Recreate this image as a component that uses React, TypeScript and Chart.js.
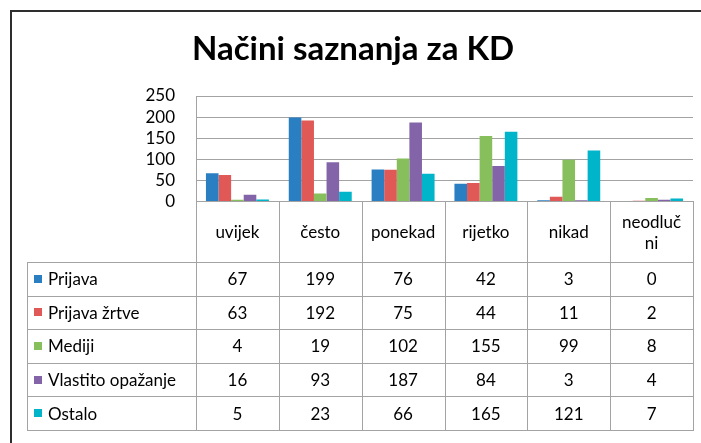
import React, { useEffect, useRef } from "react";
import { Chart, registerables } from "chart.js";

Chart.register(...registerables);

const chartTitle = "Načini saznanja za KD";
const categories = ["uvijek", "često", "ponekad", "rijetko", "nikad", "neodlučni"];
const headerLabels = [["uvijek"], ["često"], ["ponekad"], ["rijetko"], ["nikad"], ["neodluč", "ni"]];
const seriesNames = ["Prijava", "Prijava žrtve", "Mediji", "Vlastito opažanje", "Ostalo"];
const prijava = [67, 199, 76, 42, 3, 0];
const prijavaZrtve = [63, 192, 75, 44, 11, 2];
const mediji = [4, 19, 102, 155, 99, 8];
const vlastitoOpazanje = [16, 93, 187, 84, 3, 4];
const ostalo = [5, 23, 66, 165, 121, 7];
const seriesValues = [prijava, prijavaZrtve, mediji, vlastitoOpazanje, ostalo];
const seriesColors = ["#2A7FC2", "#E05957", "#86BF5B", "#8464A9", "#00B4CA"];
const yTicks = [0, 50, 100, 150, 200, 250];

const FONT = "Lato, 'Open Sans', sans-serif";
const GRID = "#A3A3A3";

// layout geometry
const W = 701;
const H = 443;
const PLOT_LEFT = 196;
const PLOT_RIGHT = 693;
const PLOT_TOP = 96;
const PLOT_BOTTOM = 201.5;
const TABLE_LEFT = 27;
const HEADER_BOTTOM = 262;
const ROW_H = 33.6;

export default function App() {
  const canvasRef = useRef<HTMLCanvasElement | null>(null);

  useEffect(() => {
    const canvas = canvasRef.current;
    if (!canvas) return;
    const padLeft = 13;
    const titleSize = 33;
    const titleLH = titleSize * 1.2;
    const titlePadTop = 20;
    const chart = new Chart(canvas, {
      type: "bar",
      data: {
        labels: categories,
        datasets: seriesValues.map((vals, i) => ({
          label: seriesNames[i],
          data: vals,
          backgroundColor: seriesColors[i],
          borderWidth: 0,
          categoryPercentage: 0.76,
          barPercentage: 1,
        })),
      },
      options: {
        responsive: false,
        animation: false,
        layout: {
          padding: { left: padLeft, right: W - PLOT_RIGHT, top: 10, bottom: H - PLOT_BOTTOM },
        },
        plugins: {
          legend: { display: false },
          tooltip: { enabled: false },
          title: {
            display: true,
            text: chartTitle,
            color: "#000",
            font: { family: FONT, weight: "bold", size: titleSize, lineHeight: 1.2 },
            padding: { top: titlePadTop, bottom: PLOT_TOP - 10 - titlePadTop - titleLH },
          },
        },
        scales: {
          x: { display: false },
          y: {
            min: 0,
            max: 250,
            afterBuildTicks: (s: any) => {
              s.ticks = yTicks.map((v) => ({ value: v }));
            },
            afterFit: (s: any) => {
              s.width = PLOT_LEFT - padLeft;
            },
            ticks: { color: "#000", font: { family: FONT, size: 17 }, padding: 21, autoSkip: false },
            grid: { color: GRID, drawTicks: false, lineWidth: 1 },
            border: { color: GRID, width: 1 },
          },
        },
      } as any,
    });
    return () => chart.destroy();
  }, []);

  const colW = (PLOT_RIGHT - PLOT_LEFT) / categories.length;
  const tableBottom = HEADER_BOTTOM + ROW_H * seriesNames.length;

  const lines: React.ReactNode[] = [];
  for (let k = 0; k <= seriesNames.length; k++) {
    const y = Math.round(HEADER_BOTTOM + ROW_H * k);
    lines.push(
      <div key={"h" + k} style={{ position: "absolute", left: TABLE_LEFT, top: y, width: PLOT_RIGHT - TABLE_LEFT + 1, height: 1, background: GRID }} />
    );
  }
  lines.push(
    <div key="vl" style={{ position: "absolute", left: TABLE_LEFT, top: HEADER_BOTTOM, width: 1, height: Math.round(tableBottom) - HEADER_BOTTOM + 1, background: GRID }} />
  );
  for (let j = 0; j <= categories.length; j++) {
    const x = Math.round(PLOT_LEFT + colW * j);
    lines.push(
      <div key={"v" + j} style={{ position: "absolute", left: x, top: Math.floor(PLOT_BOTTOM), width: 1, height: Math.round(tableBottom) - Math.floor(PLOT_BOTTOM) + 1, background: GRID }} />
    );
  }

  const cells: React.ReactNode[] = [];
  headerLabels.forEach((lbl, j) => {
    cells.push(
      <div
        key={"hc" + j}
        style={{
          position: "absolute",
          left: PLOT_LEFT + colW * j,
          top: PLOT_BOTTOM,
          width: colW,
          height: HEADER_BOTTOM - PLOT_BOTTOM,
          display: "flex",
          flexDirection: "column",
          alignItems: "center",
          justifyContent: "center",
          lineHeight: "21px",
        }}
      >
        {lbl.map((t, i) => (
          <span key={i}>{t}</span>
        ))}
      </div>
    );
  });
  seriesNames.forEach((name, r) => {
    const top = HEADER_BOTTOM + ROW_H * r;
    cells.push(
      <div
        key={"n" + r}
        style={{
          position: "absolute",
          left: TABLE_LEFT,
          top,
          width: PLOT_LEFT - TABLE_LEFT,
          height: ROW_H,
          display: "flex",
          alignItems: "center",
          whiteSpace: "nowrap",
        }}
      >
        <span style={{ display: "inline-block", width: 8, height: 8, background: seriesColors[r], marginLeft: 7, marginRight: 6 }} />
        <span>{name}</span>
      </div>
    );
    seriesValues[r].forEach((v, j) => {
      cells.push(
        <div
          key={"c" + r + "-" + j}
          style={{
            position: "absolute",
            left: PLOT_LEFT + colW * j,
            top,
            width: colW,
            height: ROW_H,
            display: "flex",
            alignItems: "center",
            justifyContent: "center",
          }}
        >
          {v}
        </div>
      );
    });
  });

  return (
    <div style={{ position: "absolute", left: 0, top: 0, width: W, height: H, overflow: "hidden", background: "#fff", fontFamily: FONT, fontSize: 17, color: "#000" }}>
      <div style={{ position: "absolute", left: 10, top: 10, width: W, height: H, borderLeft: "2px solid #2E2E2E", borderTop: "2px solid #2E2E2E" }} />
      <canvas ref={canvasRef} width={W} height={H} style={{ position: "absolute", left: 0, top: 0, width: W, height: H }} />
      {lines}
      {cells}
    </div>
  );
}
